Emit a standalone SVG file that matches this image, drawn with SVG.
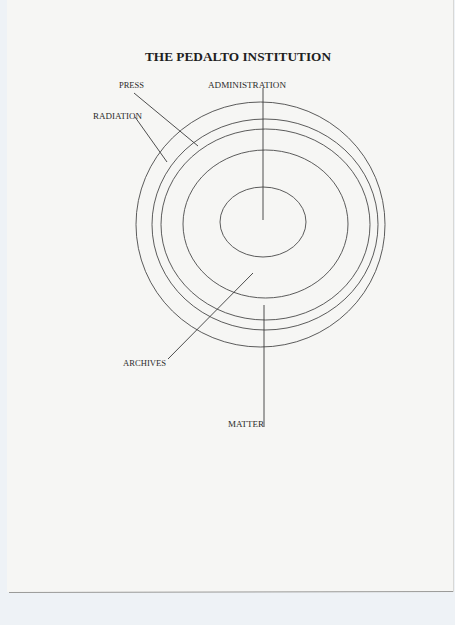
<svg xmlns="http://www.w3.org/2000/svg" width="455" height="625" viewBox="0 0 455 625">
<style>
.ring{fill:none;stroke:#4a4a4a;stroke-width:0.9}
.conn line{stroke:#3a3a3a;stroke-width:0.9}
.lbl{font-family:"Liberation Serif","Times New Roman",serif;font-size:9px;fill:#2a2a2a}
.title{font-family:"Liberation Serif","Times New Roman",serif;font-size:13px;font-weight:bold;fill:#1e1e1e}
</style>
<rect x="0" y="0" width="455" height="625" fill="#eef2f6"/>
<rect x="7" y="0" width="447" height="592" fill="#f6f6f4"/>
<line x1="9" y1="592.5" x2="453" y2="591.5" stroke="#9a9a98" stroke-width="1"/>
<line x1="453.5" y1="0" x2="453.5" y2="592" stroke="#d8d8d6" stroke-width="1"/>

<text class="title" x="145" y="61" textLength="186" lengthAdjust="spacingAndGlyphs">THE PEDALTO INSTITUTION</text>

<g id="radiation">
<ellipse class="ring" cx="260.5" cy="224.5" rx="124.5" ry="122.5"/>
<text class="lbl" x="93" y="119" textLength="49" lengthAdjust="spacingAndGlyphs">RADIATION</text>
</g>
<g id="press">
<ellipse class="ring" cx="265" cy="224.5" rx="113" ry="105.5"/>
<text class="lbl" x="119" y="88" textLength="25" lengthAdjust="spacingAndGlyphs">PRESS</text>
</g>
<g id="matter">
<ellipse class="ring" cx="265.5" cy="224.5" rx="104.5" ry="95.5"/>
<text class="lbl" x="228" y="427" textLength="36" lengthAdjust="spacingAndGlyphs">MATTER</text>
</g>
<g id="archives">
<ellipse class="ring" cx="265.5" cy="224" rx="82.5" ry="74"/>
<text class="lbl" x="123" y="366" textLength="43" lengthAdjust="spacingAndGlyphs">ARCHIVES</text>
</g>
<g id="administration">
<ellipse class="ring" cx="263" cy="222" rx="43" ry="35"/>
<text class="lbl" x="208" y="88" textLength="78" lengthAdjust="spacingAndGlyphs">ADMINISTRATION</text>
</g>

<g id="connectors" class="conn">
<line x1="263" y1="88" x2="263" y2="220"/>
<line x1="134" y1="93" x2="198" y2="146"/>
<line x1="135" y1="117" x2="167" y2="162"/>
<line x1="253" y1="273" x2="168" y2="359"/>
<line x1="264" y1="305" x2="264" y2="427"/>
</g>
</svg>
